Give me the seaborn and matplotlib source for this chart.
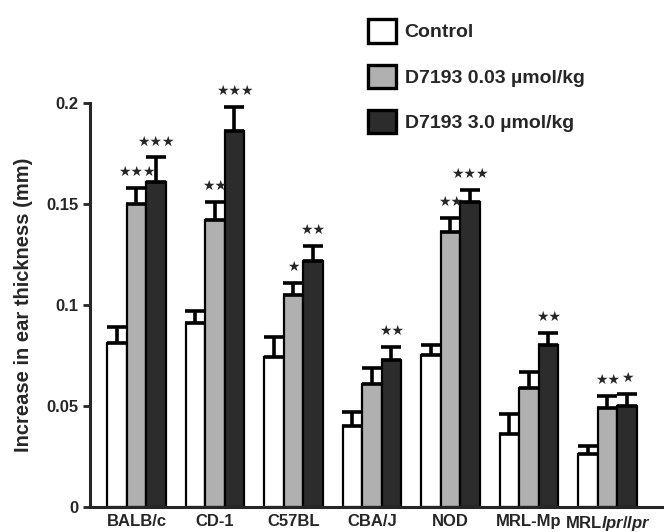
import numpy as np
import pandas as pd
import matplotlib
matplotlib.use("Agg")
import matplotlib.pyplot as plt
import seaborn as sns

# Ear swelling per mouse strain, mean and SEM
strains = ["BALB/c", "CD-1", "C57BL", "CBA/J", "NOD", "MRL-Mp", "MRL lpr/lpr"]
treatments = ["Control", "D7193 0.03 µmol/kg", "D7193 3.0 µmol/kg"]

control_mean = [0.081, 0.091, 0.074, 0.040, 0.075, 0.036, 0.026]
control_sem = [0.008, 0.006, 0.010, 0.007, 0.005, 0.010, 0.004]
low_mean = [0.150, 0.142, 0.105, 0.061, 0.136, 0.059, 0.049]
low_sem = [0.008, 0.009, 0.006, 0.008, 0.007, 0.008, 0.006]
high_mean = [0.161, 0.186, 0.122, 0.073, 0.151, 0.080, 0.050]
high_sem = [0.012, 0.012, 0.007, 0.006, 0.006, 0.006, 0.006]

control_sig = ["", "", "", "", "", "", ""]
low_sig = ["***", "**", "*", "", "**", "", "**"]
high_sig = ["***", "***", "**", "**", "***", "**", "*"]

y_ticks = [0, 0.05, 0.1, 0.15, 0.2]
y_tick_labels = ["0", "0.05", "0.1", "0.15", "0.2"]

means = [control_mean, low_mean, high_mean]
sems = [control_sem, low_sem, high_sem]
sigs = [control_sig, low_sig, high_sig]

df = pd.DataFrame({
    "strain": np.repeat([strains], 3, axis=0).ravel(),
    "treatment": np.repeat(treatments, len(strains)),
    "value": np.concatenate(means),
})

sns.set_style("white")
plt.rcParams["font.family"] = ["Liberation Sans", "DejaVu Sans"]
plt.rcParams["mathtext.fontset"] = "custom"
plt.rcParams["mathtext.it"] = "Liberation Sans:italic:bold"
plt.rcParams["mathtext.rm"] = "Liberation Sans:bold"

fig = plt.figure(figsize=(6.64, 5.32), dpi=100)
ax = fig.add_axes([0.1355, 0.047, 0.8645, 0.7595])

palette = {treatments[0]: "#ffffff", treatments[1]: "#b0b0b0", treatments[2]: "#2c2c2c"}
sns.barplot(data=df, x="strain", y="value", hue="treatment", order=strains,
            hue_order=treatments, palette=palette, errorbar=None, width=0.745,
            gap=0, edgecolor="black", linewidth=1.6, saturation=1, ax=ax)

# Upward-only SEM bars and significance stars
for cont, m, s, sg in zip(ax.containers, means, sems, sigs):
    xs = [p.get_x() + p.get_width() / 2 for p in cont.patches]
    ax.errorbar(xs, m, yerr=[np.zeros(len(s)), s], fmt="none", ecolor="black",
                elinewidth=2.6, capsize=7.5, capthick=2.6, zorder=3, clip_on=False)
    for x, mv, sv, lab in zip(xs, m, s, sg):
        if lab:
            ax.annotate("\u2605" * len(lab), (x, mv + sv), xytext=(0, 11.5),
                        textcoords="offset points", ha="center", va="center",
                        fontsize=10, family="DejaVu Sans", annotation_clip=False)

ax.set_ylim(0, 0.2)
ax.set_xlim(-0.592, 6.72)
ax.set_yticks(y_ticks)
ax.set_yticklabels(y_tick_labels, fontsize=12, fontweight="bold")
labels = list(strains[:-1]) + [r"MRL$\it{lpr/lpr}$"]
ax.set_xticks(range(len(strains)))
ax.set_xticklabels(labels, fontsize=12, fontweight="bold")
ax.tick_params(axis="y", direction="out", length=5, width=2, pad=3, left=True)
ax.tick_params(axis="x", length=0, pad=5)
ax.set_xlabel("")
ax.set_ylabel("Increase in ear thickness (mm)", fontsize=14.5, fontweight="bold")
ax.yaxis.set_label_coords(-0.1, 0.5)

sns.despine(ax=ax)
ax.spines["left"].set_linewidth(2.2)
ax.spines["bottom"].set_linewidth(2.2)

sns.move_legend(ax, loc="upper left", bbox_to_anchor=(0.542, 0.978),
                bbox_transform=fig.transFigure, frameon=False, title=None,
                prop={"size": 14, "weight": "bold"}, handlelength=1.45,
                handleheight=1.45, labelspacing=1.15, handletextpad=0.45,
                borderaxespad=0)
leg = ax.get_legend()
for h in leg.legend_handles:
    h.set_edgecolor("black")
    h.set_linewidth(2.4)

fig.savefig("out.png", dpi=100)
